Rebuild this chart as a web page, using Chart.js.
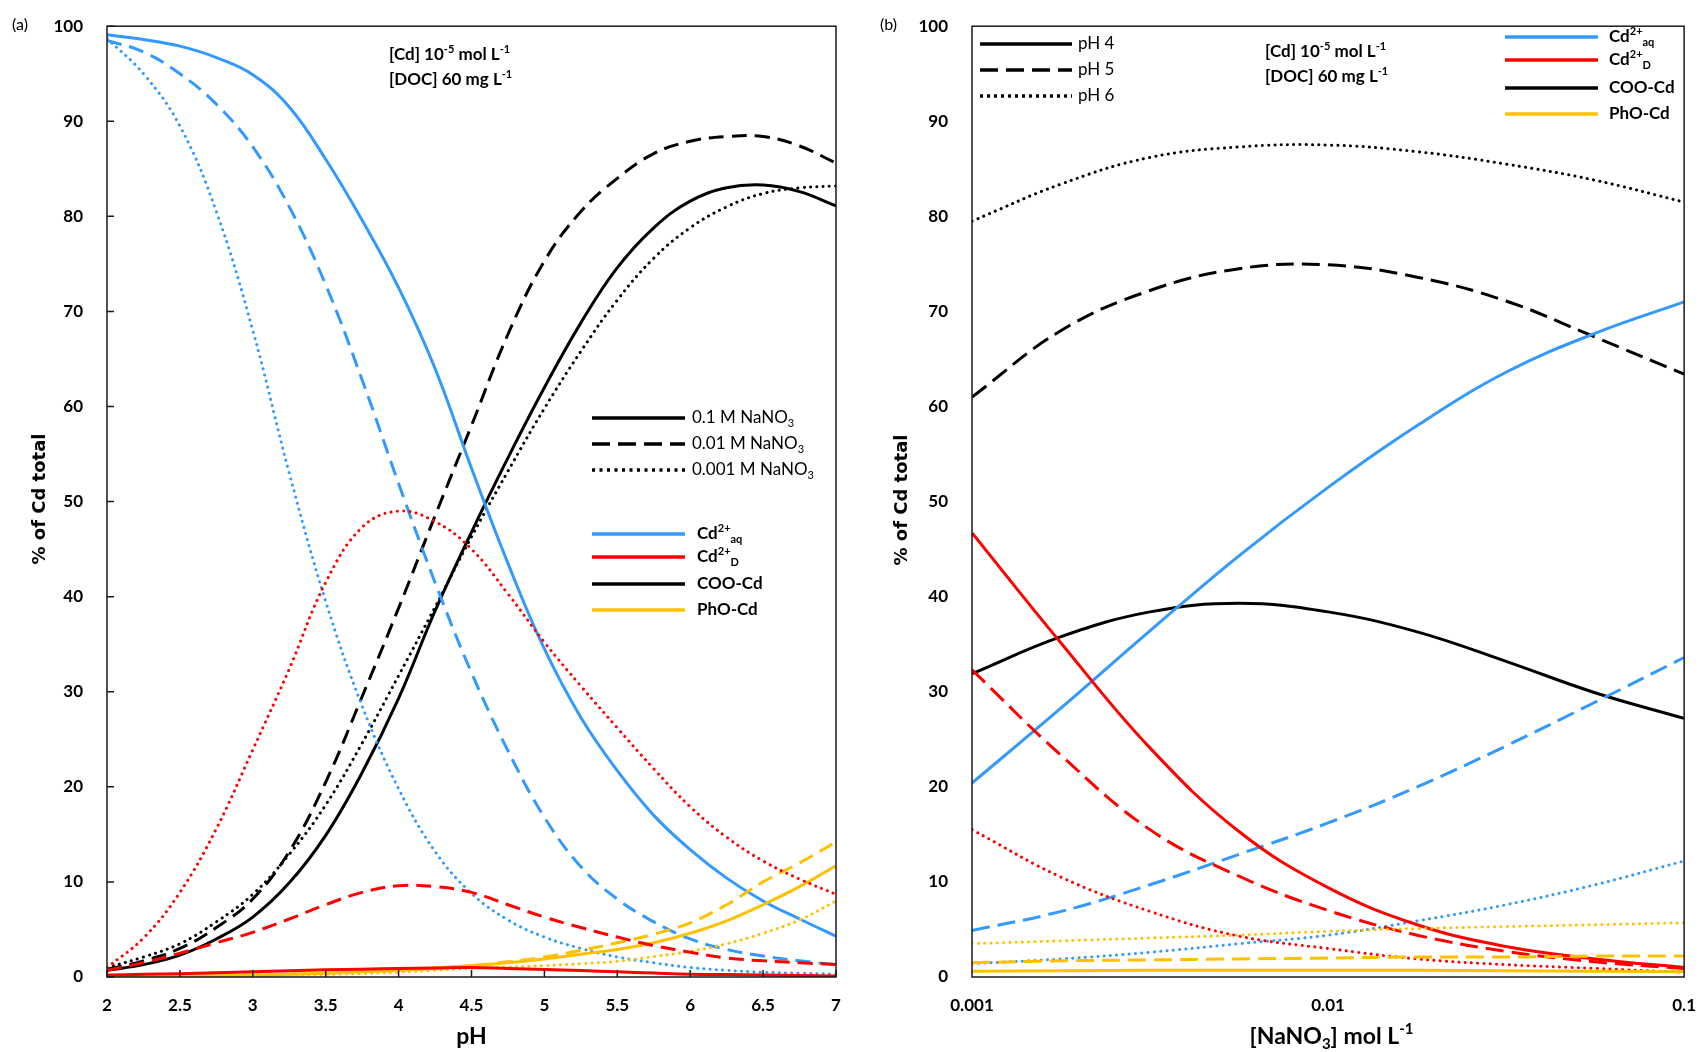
<!DOCTYPE html>
<html>
<head>
<meta charset="utf-8">
<script src="https://cdn.jsdelivr.net/npm/chart.js@4.4.1/dist/chart.umd.min.js"></script>
<style>
  html, body { margin: 0; padding: 0; background: #fff; }
  #wrap { position: relative; width: 1706px; height: 1052px; }
  .box { position: absolute; top: 0; width: 853px; height: 1052px; }
</style>
</head>
<body>
<div id="wrap">
  <div class="box" style="left:0"><canvas id="chartA" width="853" height="1052"></canvas></div>
  <div class="box" style="left:853px"><canvas id="chartB" width="853" height="1052"></canvas></div>
</div>
<script>
// ---- (a) speciation vs pH ----
const pH = [2, 2.25, 2.5, 2.75, 3, 3.25, 3.5, 3.75, 4, 4.25, 4.5, 4.75, 5, 5.25, 5.5, 5.75, 6, 6.25, 6.5, 6.75, 7];

const cdAq_01M   = [99.1, 98.6, 97.9, 96.7, 94.9, 91.5, 86.0, 79.6, 72.5, 64.0, 53.5, 43.5, 34.5, 27.3, 21.7, 17.0, 13.4, 10.4, 8.0, 6.1, 4.3];
const cdAq_001M  = [98.5, 97.3, 95.0, 91.8, 87.3, 81.0, 72.8, 62.8, 51.9, 41.5, 32.0, 23.8, 16.8, 11.6, 8.2, 5.8, 4.0, 2.9, 2.2, 1.7, 1.3];
const cdAq_0001M = [98.7, 95.0, 89.5, 80.5, 68.0, 53.0, 39.5, 28.5, 19.8, 13.2, 8.8, 6.0, 4.2, 3.0, 2.1, 1.5, 1.0, 0.7, 0.5, 0.4, 0.3];

const cdD_01M   = [0.2, 0.28, 0.35, 0.45, 0.55, 0.65, 0.75, 0.82, 0.9, 0.95, 1.0, 0.9, 0.8, 0.68, 0.55, 0.42, 0.3, 0.25, 0.2, 0.15, 0.1];
const cdD_001M  = [0.7, 1.5, 2.5, 3.6, 4.7, 6.1, 7.6, 8.9, 9.6, 9.5, 8.9, 7.6, 6.3, 5.2, 4.2, 3.3, 2.6, 2.0, 1.7, 1.5, 1.3];
const cdD_0001M = [1.0, 4.1, 8.9, 15.6, 23.9, 32.4, 41.5, 47.3, 49.0, 47.9, 45.0, 40.3, 35.2, 30.6, 26.2, 21.9, 17.9, 14.7, 12.2, 10.3, 8.7];

const cooCd_01M   = [0.7, 1.3, 2.3, 4.0, 6.3, 9.9, 14.9, 21.5, 29.3, 38.5, 46.8, 54.6, 62.0, 68.8, 74.6, 78.8, 81.6, 83.0, 83.3, 82.6, 81.1];
const cooCd_001M  = [0.8, 1.7, 3.0, 5.2, 8.2, 13.2, 20.5, 29.5, 38.8, 48.5, 58.0, 67.6, 75.3, 80.5, 84.0, 86.6, 87.9, 88.4, 88.4, 87.4, 85.6];
const cooCd_0001M = [1.0, 2.1, 3.5, 5.8, 8.7, 12.9, 18.1, 24.6, 31.7, 38.9, 46.3, 53.2, 59.8, 65.8, 71.2, 75.6, 78.8, 81.0, 82.4, 83.0, 83.2];

const phoCd_01M   = [0.05, 0.07, 0.1, 0.15, 0.2, 0.3, 0.4, 0.55, 0.7, 0.95, 1.2, 1.5, 1.9, 2.4, 2.9, 3.6, 4.6, 5.9, 7.6, 9.5, 11.7];
const phoCd_001M  = [0.05, 0.07, 0.1, 0.15, 0.2, 0.3, 0.4, 0.55, 0.7, 0.95, 1.2, 1.6, 2.1, 2.8, 3.6, 4.5, 5.7, 7.6, 10.0, 12.0, 14.2];
const phoCd_0001M = [0.02, 0.03, 0.05, 0.07, 0.1, 0.17, 0.25, 0.35, 0.5, 0.7, 0.9, 1.05, 1.2, 1.4, 1.65, 2.15, 2.7, 3.5, 4.6, 6.0, 8.0];

// ---- (b) speciation vs NaNO3 ----
const nano3 = [0.001, 0.00178, 0.00316, 0.00562, 0.01, 0.0178, 0.0316, 0.0562, 0.1];

const cdAq_pH4 = [20.4, 28.3, 36.4, 44.3, 51.5, 58.0, 63.6, 67.7, 71.0];
const cdAq_pH5 = [4.9, 6.9, 9.7, 12.9, 16.2, 20.0, 24.3, 28.9, 33.6];
const cdAq_pH6 = [1.4, 1.9, 2.6, 3.5, 4.4, 5.9, 7.6, 9.7, 12.2];

const cdD_pH4 = [46.7, 35.1, 24.1, 15.3, 9.4, 5.5, 3.2, 1.9, 1.0];
const cdD_pH5 = [32.3, 23.3, 15.5, 10.6, 7.0, 4.4, 2.7, 1.6, 0.9];
const cdD_pH6 = [15.5, 10.5, 6.9, 4.3, 3.0, 1.9, 1.3, 0.9, 0.5];

const cooCd_pH4 = [31.9, 35.8, 38.4, 39.3, 38.4, 36.3, 33.2, 29.9, 27.2];
const cooCd_pH5 = [61.0, 68.0, 72.2, 74.5, 74.9, 73.6, 71.1, 67.3, 63.4];
const cooCd_pH6 = [79.5, 83.4, 86.2, 87.3, 87.5, 86.8, 85.5, 83.8, 81.5];

const phoCd_pH4 = [0.6, 0.65, 0.7, 0.7, 0.7, 0.7, 0.65, 0.6, 0.55];
const phoCd_pH5 = [1.5, 1.7, 1.8, 1.9, 2.0, 2.1, 2.1, 2.2, 2.2];
const phoCd_pH6 = [3.5, 3.8, 4.1, 4.4, 4.8, 5.1, 5.3, 5.5, 5.7];

// tick labels
const pHTicks = [2, 2.5, 3, 3.5, 4, 4.5, 5, 5.5, 6, 6.5, 7];
const pctTicks = [0, 10, 20, 30, 40, 50, 60, 70, 80, 90, 100];
const nitrateTicks = [0.001, 0.01, 0.1];

const BLUE = '#3399ff', RED = '#ff0000', BLACK = '#000000', GOLD = '#ffc000';
const FONT = 'Lato, "Open Sans", sans-serif';
const SOLID = [], DOT = [0.1, 6.2];

function line(xs, ys, color, dash) {
    return {
        data: xs.map((x, i) => ({ x: x, y: ys[i] })),
        borderColor: color,
        borderDash: dash,
        borderCapStyle: dash === DOT ? 'round' : 'butt',
        borderWidth: 3,
        pointRadius: 0,
        fill: false,
        tension: 0.4
    };
}

// text with super/subscripts: parts = [[text, 'sup'|'sub'|undefined], ...]
function rich(ctx, parts, x, y, size, weight, align, family) {
    const small = Math.round(size * 0.64);
    const f = s => `${weight} ${s}px ${family || FONT}`;
    let w = 0;
    parts.forEach(p => { ctx.font = f(p[1] ? small : size); w += ctx.measureText(p[0]).width; });
    let cx = align === 'center' ? x - w / 2 : x;
    ctx.textAlign = 'left';
    ctx.textBaseline = 'middle';
    ctx.fillStyle = '#000';
    parts.forEach(p => {
        ctx.font = f(p[1] ? small : size);
        const dy = p[1] === 'sup' ? -size * 0.33 : p[1] === 'sub' ? size * 0.33 : 0;
        ctx.fillText(p[0], cx, y + dy);
        cx += ctx.measureText(p[0]).width;
    });
}

function makeFrame(withTicks) {
    return {
        id: 'frame',
        afterDatasetsDraw(chart) {
            const { ctx, chartArea: a } = chart;
            ctx.save();
            ctx.strokeStyle = '#1a1a1a';
            ctx.lineWidth = 1.5;
            if (withTicks) {
                const { x, y } = chart.scales;
                ctx.beginPath();
                y.ticks.forEach(t => { const p = y.getPixelForValue(t.value); ctx.moveTo(a.left, p); ctx.lineTo(a.left + 7, p); });
                x.ticks.forEach(t => { const p = x.getPixelForValue(t.value); ctx.moveTo(p, a.bottom); ctx.lineTo(p, a.bottom - 7); });
                ctx.stroke();
            }
            ctx.strokeRect(a.left, a.top, a.width, a.height);
            ctx.restore();
        }
    };
}

function makeNotes(items) {
    return {
        id: 'notes',
        afterDraw(chart) {
            const ctx = chart.ctx;
            ctx.save();
            items.forEach(it => {
                if (it.line) {
                    ctx.beginPath();
                    ctx.setLineDash(it.dash || []);
                    ctx.lineCap = 'butt';
                    ctx.strokeStyle = it.color;
                    ctx.lineWidth = 3.5;
                    ctx.moveTo(it.line[0], it.y);
                    ctx.lineTo(it.line[1], it.y);
                    ctx.stroke();
                    ctx.setLineDash([]);
                } else if (it.rotate) {
                    ctx.save();
                    ctx.translate(it.x, it.y);
                    ctx.rotate(-Math.PI / 2);
                    rich(ctx, it.parts, 0, 0, it.size, it.weight, 'center', it.family);
                    ctx.restore();
                } else {
                    rich(ctx, it.parts, it.x, it.y, it.size, it.weight, it.align, it.family);
                }
            });
            ctx.restore();
        }
    };
}

function axes(xScale, yWidth) {
    const tickFont = { family: FONT, size: 17, weight: 'bold' };
    return {
        x: Object.assign({
            grid: { display: false },
            border: { display: false },
            ticks: { font: tickFont, color: '#000', padding: 10, maxRotation: 0, autoSkip: false, callback: v => String(v) },
            afterFit: s => { s.height = 75; }
        }, xScale),
        y: {
            min: 0, max: 100,
            grid: { display: false },
            border: { display: false },
            afterBuildTicks: s => { s.ticks = pctTicks.map(v => ({ value: v })); },
            ticks: { font: tickFont, color: '#000', padding: 16, callback: v => String(v) },
            afterFit: s => { s.width = yWidth; }
        }
    };
}

const baseOpts = {
    responsive: false,
    animation: false,
    plugins: { legend: { display: false }, tooltip: { enabled: false } }
};

const concLegend = [
    [['0.1 M NaNO'], ['3', 'sub']],
    [['0.01 M NaNO'], ['3', 'sub']],
    [['0.001 M NaNO'], ['3', 'sub']]
];
const pHLegend = [[['pH 4']], [['pH 5']], [['pH 6']]];
const speciesLegend = [
    [['Cd'], ['2+', 'sup'], ['aq', 'sub']],
    [['Cd'], ['2+', 'sup'], ['D', 'sub']],
    [['COO-Cd']],
    [['PhO-Cd']]
];
const speciesColors = [BLUE, RED, BLACK, GOLD];
const conditions = [
    [['[Cd] 10'], ['-5', 'sup'], [' mol L'], ['-1', 'sup']],
    [['[DOC] 60 mg L'], ['-1', 'sup']]
];
const yTitle = [['% of Cd total']];

// ---------- chart (a) ----------
const DASH_A = [15, 8];
const notesA = [
    { x: 12, y: 25, parts: [['(a)']], size: 16, weight: 400 },
    { x: 389, y: 55, parts: conditions[0], size: 17, weight: 'bold' },
    { x: 389, y: 80, parts: conditions[1], size: 17, weight: 'bold' },
    { line: [592, 685], y: 418, color: BLACK, dash: [] },
    { line: [592, 685], y: 444, color: BLACK, dash: [18, 8] },
    { line: [592, 685], y: 470, color: BLACK, dash: [3, 4.5] },
    { x: 692, y: 418, parts: concLegend[0], size: 17, weight: 400 },
    { x: 692, y: 444, parts: concLegend[1], size: 17, weight: 400 },
    { x: 692, y: 470, parts: concLegend[2], size: 17, weight: 400 },
    { x: 40, y: 499, rotate: true, parts: yTitle, size: 18, weight: 'bold', family: '"DejaVu Sans", sans-serif' },
    { x: 471.5, y: 1037, parts: [['pH']], size: 23, weight: 'bold', align: 'center' }
];
[534, 557, 584, 610].forEach((y, i) => {
    notesA.push({ line: [592, 685], y: y, color: speciesColors[i], dash: [] });
    notesA.push({ x: 697, y: y, parts: speciesLegend[i], size: 17, weight: 'bold' });
});

new Chart(document.getElementById('chartA').getContext('2d'), {
    type: 'line',
    data: {
        datasets: [
            line(pH, cdD_01M, RED, SOLID),
            line(pH, cdD_001M, RED, DASH_A),
            line(pH, cdD_0001M, RED, DOT),
            line(pH, phoCd_01M, GOLD, SOLID),
            line(pH, phoCd_001M, GOLD, DASH_A),
            line(pH, phoCd_0001M, GOLD, DOT),
            line(pH, cdAq_01M, BLUE, SOLID),
            line(pH, cdAq_001M, BLUE, DASH_A),
            line(pH, cdAq_0001M, BLUE, DOT),
            line(pH, cooCd_01M, BLACK, SOLID),
            line(pH, cooCd_001M, BLACK, DASH_A),
            line(pH, cooCd_0001M, BLACK, DOT)
        ]
    },
    options: Object.assign({}, baseOpts, {
        layout: { padding: { left: 0, right: 17, top: 21, bottom: 0 } },
        scales: axes({
            type: 'linear', min: 2, max: 7,
            afterBuildTicks: s => { s.ticks = pHTicks.map(v => ({ value: v })); }
        }, 107)
    }),
    plugins: [makeFrame(true), makeNotes(notesA)]
});

// ---------- chart (b) ----------
const DASH_B = [18, 8];
const notesB = [
    { x: 27, y: 25, parts: [['(b)']], size: 16, weight: 400 },
    { x: 412, y: 52, parts: conditions[0], size: 17, weight: 'bold' },
    { x: 412, y: 77, parts: conditions[1], size: 17, weight: 'bold' },
    { line: [127, 219], y: 44, color: BLACK, dash: [] },
    { line: [127, 219], y: 70, color: BLACK, dash: [18, 8] },
    { line: [127, 219], y: 96, color: BLACK, dash: [3, 4] },
    { x: 225, y: 44, parts: pHLegend[0], size: 17, weight: 400 },
    { x: 225, y: 70, parts: pHLegend[1], size: 17, weight: 400 },
    { x: 225, y: 96, parts: pHLegend[2], size: 17, weight: 400 },
    { x: 49, y: 500, rotate: true, parts: yTitle, size: 18, weight: 'bold', family: '"DejaVu Sans", sans-serif' },
    { x: 478.5, y: 1037, parts: [['[NaNO'], ['3', 'sub'], ['] mol L'], ['-1', 'sup']], size: 23, weight: 'bold', align: 'center' }
];
[37, 60, 88, 114].forEach((y, i) => {
    notesB.push({ line: [652, 745], y: y, color: speciesColors[i], dash: [] });
    notesB.push({ x: 756, y: y, parts: speciesLegend[i], size: 17, weight: 'bold' });
});

new Chart(document.getElementById('chartB').getContext('2d'), {
    type: 'line',
    data: {
        datasets: [
            line(nano3, phoCd_pH4, GOLD, SOLID),
            line(nano3, phoCd_pH5, GOLD, DASH_B),
            line(nano3, phoCd_pH6, GOLD, DOT),
            line(nano3, cdD_pH4, RED, SOLID),
            line(nano3, cdD_pH5, RED, DASH_B),
            line(nano3, cdD_pH6, RED, DOT),
            line(nano3, cdAq_pH4, BLUE, SOLID),
            line(nano3, cdAq_pH5, BLUE, DASH_B),
            line(nano3, cdAq_pH6, BLUE, DOT),
            line(nano3, cooCd_pH4, BLACK, SOLID),
            line(nano3, cooCd_pH5, BLACK, DASH_B),
            line(nano3, cooCd_pH6, BLACK, DOT)
        ]
    },
    options: Object.assign({}, baseOpts, {
        layout: { padding: { left: 0, right: 15, top: 23, bottom: 0 } },
        scales: axes({
            type: 'logarithmic', min: 0.001, max: 0.1,
            afterBuildTicks: s => { s.ticks = nitrateTicks.map(v => ({ value: v })); }
        }, 119)
    }),
    plugins: [makeFrame(false), makeNotes(notesB)]
});
</script>
</body>
</html>
